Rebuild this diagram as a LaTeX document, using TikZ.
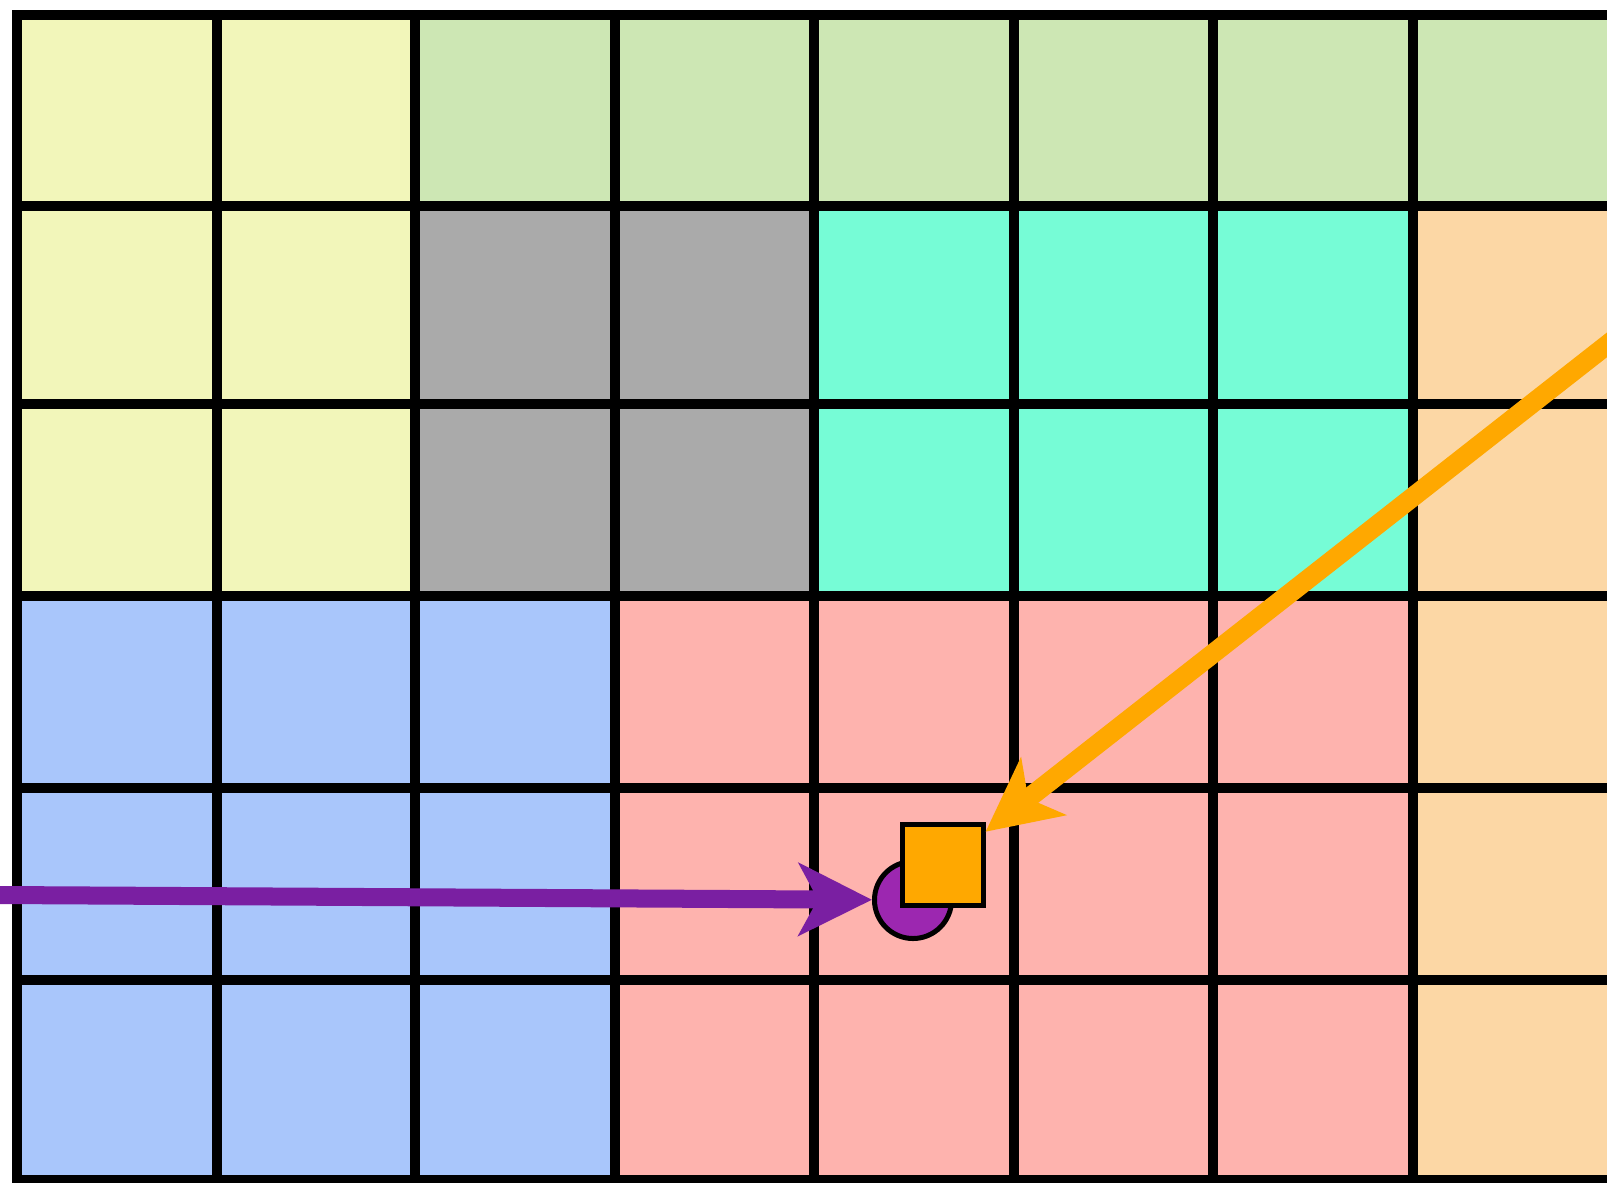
\documentclass[tikz,border=0pt]{standalone}
\usepackage{xcolor}
\definecolor{amarillo}{HTML}{F2F6BA}
\definecolor{verdeclaro}{HTML}{CDE7B4}
\definecolor{gris}{HTML}{AAAAAA}
\definecolor{aguamarina}{HTML}{76FCD6}
\definecolor{melocoton}{HTML}{FCD7A5}
\definecolor{azulclaro}{HTML}{A9C6FB}
\definecolor{salmon}{HTML}{FEB3AE}
\definecolor{naranja}{HTML}{FFA800}
\definecolor{morado}{HTML}{7A1FA2}
\definecolor{moradoclaro}{HTML}{9C27B0}
\usepackage{tikz}
\usetikzlibrary{arrows.meta}

\begin{document}
\begin{tikzpicture}[
  x=0.01cm, y=-0.01cm,
  linea/.style={draw=black, line width=0.1cm, line cap=rect},
  punto/.style={
    circle, draw=black, fill=moradoclaro,
    line width=0.05cm, inner sep=0pt, minimum size=0.77cm
  },
  caja/.style={
    rectangle, draw=black, fill=naranja,
    line width=0.05cm, inner sep=0pt, minimum size=0.8cm
  },
  flecha/.style={-{Stealth[length=0.73cm, width=0.72cm, inset=0.19cm]}}
]
  \useasboundingbox (0,0) rectangle (1607,1183);
  \clip (0,0) rectangle (1607,1183);
  % zonas de color
  \fill[amarillo]   (17,15)     rectangle (415,596);
  \fill[verdeclaro] (415,15)    rectangle (1612,206);
  \fill[gris]       (415,206)   rectangle (814,596);
  \fill[aguamarina] (814,206)   rectangle (1412.5,596);
  \fill[melocoton]  (1412.5,206) rectangle (1612,1180);
  \fill[azulclaro]  (17,596)    rectangle (614.5,1180);
  \fill[salmon]     (614.5,596) rectangle (1412.5,1180);
  % rejilla
  \foreach \x in {17,217,415,614.5,814,1014,1212.5,1412.5,1612}
    \draw[linea] (\x,15) -- (\x,1180);
  \foreach \y in {15,206,404,596,788,980,1180}
    \draw[linea] (17,\y) -- (1612,\y);
  % objetivo
  \node[punto] (bola) at (913,900) {};
  \node[caja] (cuadro) at (943,865) {};
  \coordinate (inicioMorado) at (-20,894.9);
  \coordinate (inicioNaranja) at (1640,319);
  \draw[flecha, morado, line width=0.18cm] (inicioMorado) -- (bola);
  \draw[flecha, naranja, line width=0.195cm] (inicioNaranja) -- (cuadro);
\end{tikzpicture}
\end{document}
